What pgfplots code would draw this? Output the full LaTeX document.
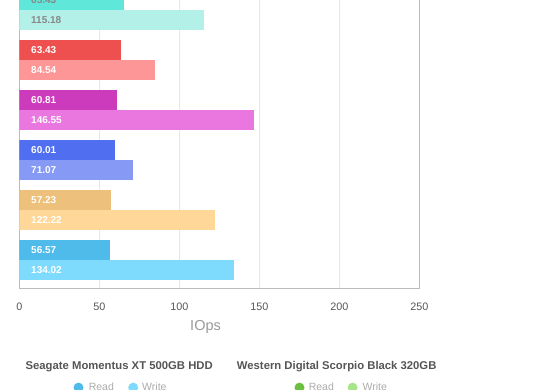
\documentclass[border=0pt]{standalone}
\usepackage{fontspec}
\setmainfont{Liberation Sans}
\usepackage{pgfplots}
\pgfplotsset{compat=1.18}
\definecolor{cyanR}{HTML}{5FE8DA}
\definecolor{cyanW}{HTML}{B2F0E8}
\definecolor{redR}{HTML}{EE5050}
\definecolor{redW}{HTML}{FD9797}
\definecolor{magR}{HTML}{CD3BBD}
\definecolor{magW}{HTML}{EA77E0}
\definecolor{bluR}{HTML}{506EF0}
\definecolor{bluW}{HTML}{8599F5}
\definecolor{oraR}{HTML}{EDC07C}
\definecolor{oraW}{HTML}{FFD899}
\definecolor{sgR}{HTML}{4FBBEB}
\definecolor{sgW}{HTML}{7FDBFD}
\definecolor{wdR}{HTML}{6CC040}
\definecolor{wdW}{HTML}{A8E58A}
\definecolor{axisgray}{HTML}{BBBBBB}
\definecolor{gridgray}{HTML}{E6E6E6}
\definecolor{ticktext}{HTML}{555555}
\definecolor{labelgray}{HTML}{999999}
\definecolor{titlegray}{HTML}{555555}
\definecolor{legtext}{HTML}{AAAAAA}
\definecolor{darklab}{HTML}{888888}
\begin{document}
\begin{tikzpicture}[x=1pt,y=1pt]
\useasboundingbox (0,0) rectangle (560,390);
\clip (0,0) rectangle (560,390);
\begin{axis}[
  at={(19.3pt,101pt)}, anchor=south west,
  scale only axis, width=400pt, height=400pt,
  xmin=0, xmax=250, ymin=-0.58, ymax=7.42,
  axis line style={draw=axisgray, line width=1pt},
  xtick={0,50,...,250}, ytick=\empty,
  xmajorgrids, major grid style={draw=gridgray, line width=1pt},
  tick style={draw=none},
  /pgf/number format/assume math mode=true,
  xticklabel style={font=\fontsize{10.8}{12}\selectfont, text=ticktext, yshift=-10pt},
  xlabel={IOps},
  xlabel style={font=\fontsize{14.5}{16}\selectfont, text=labelgray, at={(axis cs:116.4,-0.58)}, anchor=center, yshift=-38.2pt},
  bar width=0.4,
  legend columns=4,
  legend image code/.code={\fill[#1, draw=none] (5pt,0pt) circle[radius=5pt];},
  legend style={at={(axis description cs:0.1355,-0.2465)}, anchor=west, draw=none, fill=none,
    inner sep=0pt, outer sep=0pt, font=\fontsize{10.5}{12}\selectfont, text=legtext,
    nodes={inner sep=0pt}, column sep=0pt,
    /tikz/column 1/.style={column sep=5.3pt},
    /tikz/column 2/.style={column sep=14.3pt},
    /tikz/column 3/.style={column sep=4pt},
    /tikz/column 4/.style={column sep=128pt},
    /tikz/column 5/.style={column sep=4.3pt},
    /tikz/column 6/.style={column sep=13.7pt},
    /tikz/column 7/.style={column sep=5pt}},
]
% Cyan group
\addplot[xbar, bar shift=0pt, fill=cyanR, draw=none, forget plot] coordinates {(65.43,5.2)};
\addplot[xbar, bar shift=0pt, fill=cyanW, draw=none, forget plot] coordinates {(115.18,4.8)};
% Red group
\addplot[xbar, bar shift=0pt, fill=redR, draw=none, forget plot] coordinates {(63.43,4.2)};
\addplot[xbar, bar shift=0pt, fill=redW, draw=none, forget plot] coordinates {(84.54,3.8)};
% Magenta group
\addplot[xbar, bar shift=0pt, fill=magR, draw=none, forget plot] coordinates {(60.81,3.2)};
\addplot[xbar, bar shift=0pt, fill=magW, draw=none, forget plot] coordinates {(146.55,2.8)};
% Blue group
\addplot[xbar, bar shift=0pt, fill=bluR, draw=none, forget plot] coordinates {(60.01,2.2)};
\addplot[xbar, bar shift=0pt, fill=bluW, draw=none, forget plot] coordinates {(71.07,1.8)};
% Orange group
\addplot[xbar, bar shift=0pt, fill=oraR, draw=none, forget plot] coordinates {(57.23,1.2)};
\addplot[xbar, bar shift=0pt, fill=oraW, draw=none, forget plot] coordinates {(122.22,0.8)};
% Seagate group
\addplot[xbar, bar shift=0pt, fill=sgR, draw=none, forget plot] coordinates {(56.57,0.2)};
\addplot[xbar, bar shift=0pt, fill=sgW, draw=none, forget plot] coordinates {(134.02,-0.2)};
% value labels
\addplot[only marks, mark=*, mark size=0pt, mark options={draw=none, fill=none}, forget plot,
  nodes near coords, point meta=explicit symbolic,
  nodes near coords style={anchor=west, inner sep=0pt, xshift=11.7pt, text=white, font=\bfseries\fontsize{10}{12}\selectfont}]
  coordinates {(0,4.2)[63.43] (0,3.8)[84.54] (0,3.2)[60.81] (0,2.8)[146.55] (0,2.2)[60.01] (0,1.8)[71.07] (0,1.2)[57.23] (0,0.8)[122.22] (0,0.2)[56.57] (0,-0.2)[134.02]};
\addplot[only marks, mark=*, mark size=0pt, mark options={draw=none, fill=none}, forget plot,
  nodes near coords, point meta=explicit symbolic,
  nodes near coords style={anchor=west, inner sep=0pt, xshift=11.7pt, text=darklab, font=\bfseries\fontsize{10}{12}\selectfont}]
  coordinates {(0,5.2)[65.43] (0,4.8)[115.18]};
% legend
\addlegendimage{fill=sgR}\addlegendentry{Read}
\addlegendimage{fill=sgW}\addlegendentry{Write}
\addlegendimage{fill=wdR}\addlegendentry{Read}
\addlegendimage{fill=wdW}\addlegendentry{Write}
\end{axis}
\node[font=\bfseries\fontsize{11.3}{13}\selectfont, text=titlegray] at (119.2,23.5) {Seagate Momentus XT 500GB HDD};
\node[font=\bfseries\fontsize{11.3}{13}\selectfont, text=titlegray] at (336.7,23.5) {Western Digital Scorpio Black 320GB};
\end{tikzpicture}
\end{document}
